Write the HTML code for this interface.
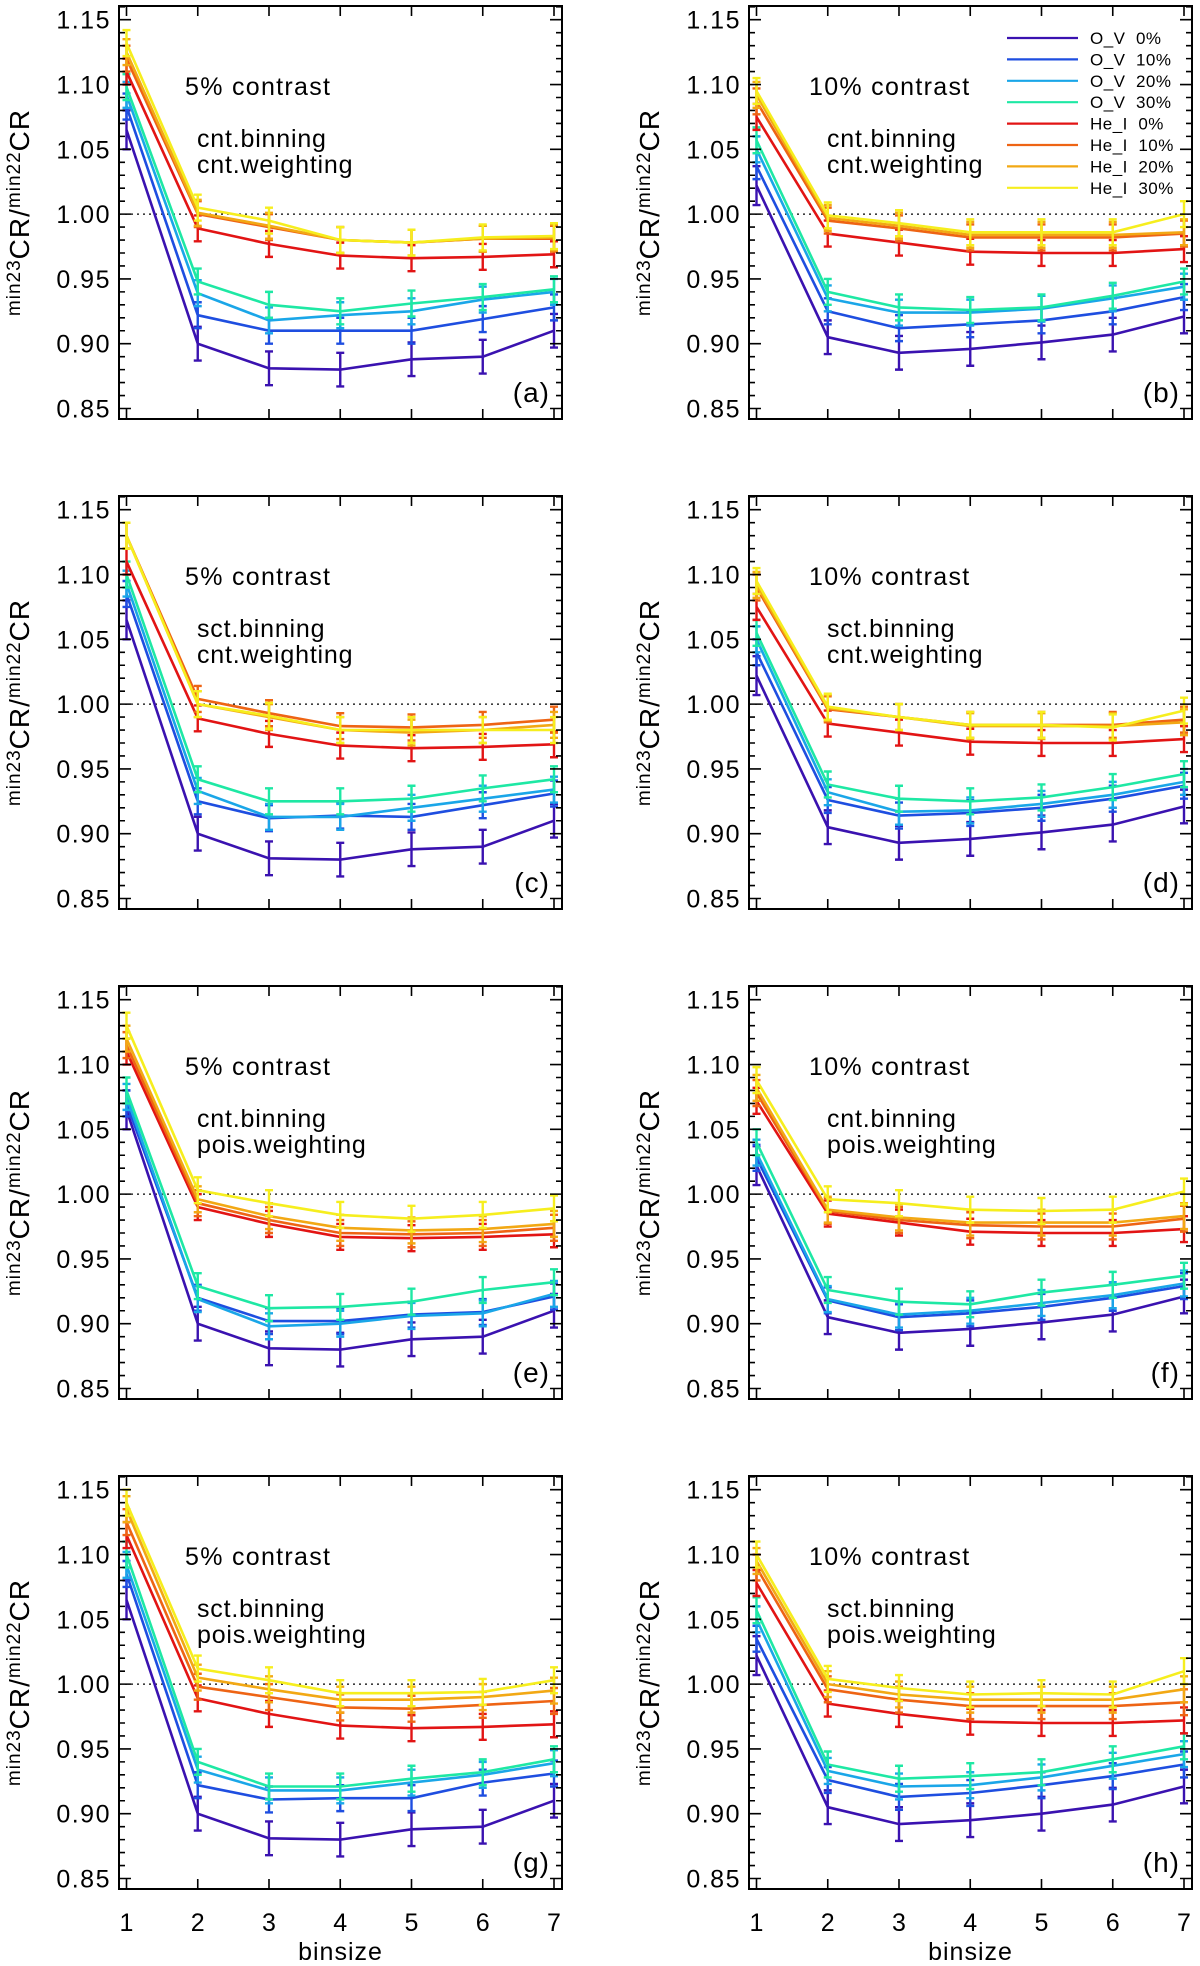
<!DOCTYPE html>
<html><head><meta charset="utf-8"><style>
html,body{margin:0;padding:0;background:#fff;}
svg{display:block;font-family:"Liberation Sans",sans-serif;}
</style></head><body>
<svg id="chart" width="1200" height="1966" viewBox="0 0 1200 1966" xmlns="http://www.w3.org/2000/svg"></svg>
<script>
const seriesNames = ["O_V  0%","O_V  10%","O_V  20%","O_V  30%","He_I  0%","He_I  10%","He_I  20%","He_I  30%"];
const seriesColors = ["#3a12b0","#1e4ee0","#1aa6e8","#1ee8a4","#e21414","#ee6414","#f2a814","#f6ee1e"];
const binsizes = [1,2,3,4,5,6,7];
const yTicks = [0.85,0.90,0.95,1.00,1.05,1.10,1.15];
const yTickLabels = ["0.85","0.90","0.95","1.00","1.05","1.10","1.15"];
const errLow = [0.015,0.013,0.013,0.013,0.013,0.013,0.013];
const errHigh = [0.010,0.010,0.010,0.010,0.010,0.010,0.010];
const panelLabels = ["(a)","(b)","(c)","(d)","(e)","(f)","(g)","(h)"];
const panelContrast = ["5% contrast","10% contrast","5% contrast","10% contrast","5% contrast","10% contrast","5% contrast","10% contrast"];
const panelBinning = ["cnt.binning","cnt.binning","sct.binning","sct.binning","cnt.binning","cnt.binning","sct.binning","sct.binning"];
const panelWeighting = ["cnt.weighting","cnt.weighting","cnt.weighting","cnt.weighting","pois.weighting","pois.weighting","pois.weighting","pois.weighting"];
const dataA = [
[1.065,0.900,0.881,0.880,0.888,0.890,0.910],
[1.083,0.922,0.910,0.910,0.910,0.919,0.928],
[1.092,0.939,0.918,0.922,0.925,0.934,0.940],
[1.098,0.948,0.930,0.925,0.931,0.936,0.942],
[1.110,0.989,0.977,0.968,0.966,0.967,0.969],
[1.120,1.000,0.990,0.980,0.978,0.981,0.981],
[1.125,1.001,0.991,0.980,0.978,0.981,0.982],
[1.132,1.005,0.995,0.980,0.978,0.982,0.983]];
const dataB = [
[1.022,0.905,0.893,0.896,0.901,0.907,0.921],
[1.037,0.925,0.912,0.915,0.918,0.925,0.936],
[1.050,0.935,0.924,0.924,0.927,0.935,0.944],
[1.057,0.940,0.928,0.926,0.928,0.937,0.948],
[1.075,0.985,0.978,0.971,0.970,0.970,0.973],
[1.087,0.995,0.989,0.982,0.982,0.982,0.985],
[1.092,0.997,0.991,0.984,0.984,0.984,0.986],
[1.095,0.999,0.993,0.986,0.986,0.986,1.000]];
const dataC = [
[1.065,0.900,0.881,0.880,0.888,0.890,0.910],
[1.085,0.925,0.912,0.914,0.913,0.922,0.931],
[1.093,0.933,0.913,0.913,0.920,0.927,0.934],
[1.100,0.942,0.925,0.925,0.927,0.935,0.942],
[1.110,0.989,0.977,0.968,0.966,0.967,0.969],
[1.130,1.004,0.993,0.983,0.982,0.984,0.988],
[1.130,1.000,0.990,0.980,0.978,0.980,0.984],
[1.130,1.000,0.991,0.980,0.980,0.980,0.980]];
const dataD = [
[1.022,0.905,0.893,0.896,0.901,0.907,0.921],
[1.040,0.926,0.914,0.916,0.920,0.927,0.937],
[1.050,0.932,0.917,0.918,0.923,0.930,0.940],
[1.055,0.938,0.927,0.925,0.928,0.936,0.946],
[1.075,0.985,0.978,0.971,0.970,0.970,0.973],
[1.090,0.996,0.990,0.984,0.984,0.984,0.988],
[1.092,0.997,0.990,0.983,0.983,0.983,0.986],
[1.095,0.998,0.990,0.984,0.984,0.982,0.995]];
const dataE = [
[1.065,0.900,0.881,0.880,0.888,0.890,0.910],
[1.070,0.920,0.902,0.902,0.907,0.909,0.921],
[1.075,0.919,0.898,0.900,0.906,0.908,0.923],
[1.080,0.929,0.912,0.913,0.917,0.926,0.932],
[1.110,0.990,0.977,0.967,0.966,0.967,0.969],
[1.115,0.993,0.980,0.970,0.969,0.970,0.974],
[1.120,0.996,0.983,0.974,0.972,0.973,0.977],
[1.130,1.003,0.993,0.984,0.981,0.984,0.989]];
const dataF = [
[1.022,0.905,0.893,0.896,0.901,0.907,0.921],
[1.028,0.918,0.905,0.908,0.913,0.920,0.929],
[1.032,0.919,0.907,0.910,0.916,0.922,0.931],
[1.040,0.926,0.917,0.915,0.924,0.930,0.937],
[1.072,0.985,0.978,0.971,0.970,0.970,0.973],
[1.078,0.987,0.980,0.976,0.975,0.975,0.981],
[1.082,0.988,0.982,0.978,0.978,0.978,0.983],
[1.088,0.996,0.993,0.988,0.987,0.988,1.002]];
const dataG = [
[1.065,0.900,0.881,0.880,0.888,0.890,0.910],
[1.085,0.922,0.911,0.912,0.912,0.924,0.931],
[1.092,0.934,0.918,0.918,0.924,0.930,0.939],
[1.100,0.940,0.921,0.921,0.927,0.932,0.942],
[1.115,0.989,0.977,0.968,0.966,0.967,0.969],
[1.125,0.998,0.990,0.982,0.981,0.984,0.987],
[1.135,1.005,0.996,0.988,0.988,0.990,0.995],
[1.140,1.012,1.003,0.993,0.993,0.994,1.003]];
const dataH = [
[1.022,0.905,0.892,0.895,0.900,0.907,0.921],
[1.035,0.926,0.913,0.916,0.922,0.929,0.938],
[1.050,0.933,0.921,0.922,0.928,0.937,0.946],
[1.057,0.938,0.927,0.929,0.932,0.942,0.952],
[1.078,0.985,0.977,0.971,0.970,0.970,0.972],
[1.090,0.996,0.988,0.983,0.983,0.983,0.986],
[1.095,1.000,0.992,0.988,0.988,0.988,0.996],
[1.100,1.004,0.997,0.992,0.993,0.992,1.010]];
const panelData = [dataA,dataB,dataC,dataD,dataE,dataF,dataG,dataH];

const NS = "http://www.w3.org/2000/svg";
const svg = document.getElementById('chart');
function mk(tag, attrs, parent){const e=document.createElementNS(NS,tag);for(const k in attrs)e.setAttribute(k,attrs[k]);(parent||svg).appendChild(e);return e;}

const PW=443, PH=413, YTOP=1.1606, YBOT=0.8419;
for(let p=0;p<8;p++){
  const col=p%2, row=Math.floor(p/2);
  const X0 = col? 749:119, Y0 = 6+row*490;
  const xs = v => X0 + 7.5 + (v-1)*71.25;
  const ys = v => Y0 + (YTOP-v)/(YTOP-YBOT)*PH;
  const g = mk('g',{});
  
  
  const ref = mk('line',{x1:X0,x2:X0+PW,y1:ys(1),y2:ys(1),stroke:'#000','stroke-width':1.3,'stroke-dasharray':'2,4'},g);
  
  
  const data = panelData[p];
  for(let s=0;s<8;s++){
    const sg = mk('g',{},g);
    
    
    const pts = data[s].map((v,i)=>xs(binsizes[i]).toFixed(1)+','+ys(v).toFixed(1)).join(' ');
    mk('polyline',{points:pts,fill:'none',stroke:seriesColors[s],'stroke-width':2.6},sg);
    data[s].forEach((v,i)=>{
      const x=xs(binsizes[i]);
      const lo = s===0?errLow[i]:errHigh[i];
      const y1=ys(v+lo), y2=ys(v-lo);
      const eb = mk('path',{d:`M${x},${y1}V${y2}M${x-4},${y1}H${x+4}M${x-4},${y2}H${x+4}`,stroke:seriesColors[s],'stroke-width':2.4,fill:'none'},sg);
      
      
    });
  }
  const fr = mk('rect',{x:X0,y:Y0,width:PW,height:PH,fill:'none',stroke:'#000','stroke-width':2},g);
  
  
  for(let k=0;k<=31;k++){
    const v = 0.85 + k*0.01;
    if(v>YTOP) break;
    const y = ys(v);
    const L = (k%5===0)?12:6;
    mk('path',{d:`M${X0},${y}h${L}M${X0+PW},${y}h${-L}`,stroke:'#000','stroke-width':1.6},g);
  }
  yTicks.forEach((v,i)=>{
    const t = mk('text',{x:X0-8,y:ys(v)+9,'text-anchor':'end','font-size':25,'letter-spacing':1.5},g);
    t.textContent = yTickLabels[i];
    
    
  });
  binsizes.forEach(b=>{
    const x=xs(b);
    mk('path',{d:`M${x},${Y0}v10M${x},${Y0+PH}v-10`,stroke:'#000','stroke-width':1.6},g);
    if(row===3){
      const t = mk('text',{x:x,y:Y0+PH+42,'text-anchor':'middle','font-size':25},g);
      t.textContent = b;
      
      
    }
  });
  if(row===3){
    const t = mk('text',{x:X0+PW/2,y:Y0+PH+71,'text-anchor':'middle','font-size':25,'letter-spacing':1},g);
    t.textContent='binsize';
    
    
  }
  const cy = Y0+PH/2, tx = X0-90;
  const yt = mk('text',{x:0,y:0,'text-anchor':'middle','font-size':28,'letter-spacing':1,transform:`translate(${tx},${cy}) rotate(-90)`},g);
  yt.innerHTML = '<tspan font-size="19" dy="-9">min23</tspan><tspan dy="9">CR/</tspan><tspan font-size="19" dy="-9">min22</tspan><tspan dy="9">CR</tspan>';
  
  
  const ax = col? X0+60 : X0+66;
  const t1 = mk('text',{x:ax,y:Y0+89,'font-size':25,'letter-spacing':1.3},g);
  t1.textContent = panelContrast[p];
  
  
  const t2 = mk('text',{x:ax+(col?18:12),y:Y0+141,'font-size':25,'letter-spacing':0.8},g);
  t2.textContent = panelBinning[p];
  
  
  const t3 = mk('text',{x:ax+(col?18:12),y:Y0+167,'font-size':25,'letter-spacing':0.8},g);
  t3.textContent = panelWeighting[p];
  
  
  const t4 = mk('text',{x:X0+PW-12,y:Y0+PH-17,'text-anchor':'end','font-size':28,'letter-spacing':1},g);
  t4.textContent = panelLabels[p];
  
  
  if(p===1){
    const lg = mk('g',{},g);
    
    
    seriesNames.forEach((n,i)=>{
      const y = 38 + i*21.4;
      const e = mk('g',{},lg);
      
      
      mk('line',{x1:1007,x2:1078,y1:y,y2:y,stroke:seriesColors[i],'stroke-width':2.2},e);
      const t = mk('text',{x:1090,y:y+6,'font-size':17,'letter-spacing':0.5},e);
      t.setAttribute('style','white-space:pre');
      t.textContent = n;
    });
  }
}
</script>
</body></html>
